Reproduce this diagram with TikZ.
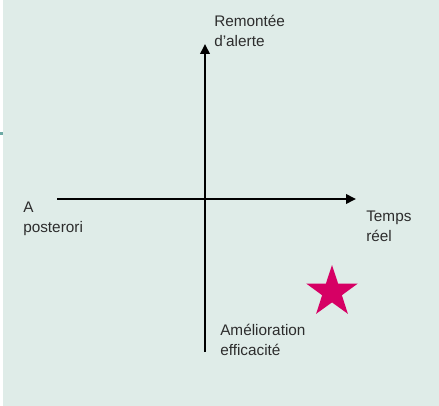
\documentclass[tikz,border=0pt]{standalone}
\usepackage{fontspec}
\setmainfont{Liberation Sans}
\usepackage{tikz}
\usetikzlibrary{arrows.meta, positioning, shapes.geometric}
\usepackage{xcolor}
\definecolor{panelgreen}{RGB}{223, 236, 232}
\definecolor{edgeteal}{RGB}{110, 170, 165}
\definecolor{starpink}{RGB}{214, 0, 100}
\definecolor{labelgray}{RGB}{45, 45, 45}

\begin{document}
\begin{tikzpicture}[
		x=0.75pt, y=-0.75pt,
		axislabel/.style={anchor=base west, align=left, inner sep=0pt,
			font=\fontsize{11.5}{15}\selectfont, text=labelgray},
		axisline/.style={-{Triangle[length=7.5pt, width=7pt]}, line width=2.2pt},
		starmark/.style={star, star points=5, star point ratio=2.6, fill=starpink,
			inner sep=0pt, minimum size=40.5pt}
		]
		\useasboundingbox (0,0) rectangle (439,406);
		\fill[panelgreen] (3,0) rectangle (439,406);
		\fill[edgeteal] (0,132) rectangle (3,135);
		% axes
		\coordinate (left)   at (57,199);
		\coordinate (right)  at (356,199);
		\coordinate (bottom) at (205,352);
		\coordinate (top)    at (205,44);
		\draw[axisline] (left) -- (right);
		\draw[axisline] (bottom) -- (top);
		% labels (anchored on the baseline of their last line)
		\node[axislabel] (alerte)  at (214,47) {Remontée\\d'alerte};
		\node[axislabel] (post)    at (23,233) {A\\posterori};
		\node[axislabel] (reel)    at (366,241) {Temps\\réel};
		\node[axislabel] (effic)   at (220,355) {Amélioration\\efficacité};
		\node[starmark] (target) at (332,292) {};
	\end{tikzpicture}
\end{document}
